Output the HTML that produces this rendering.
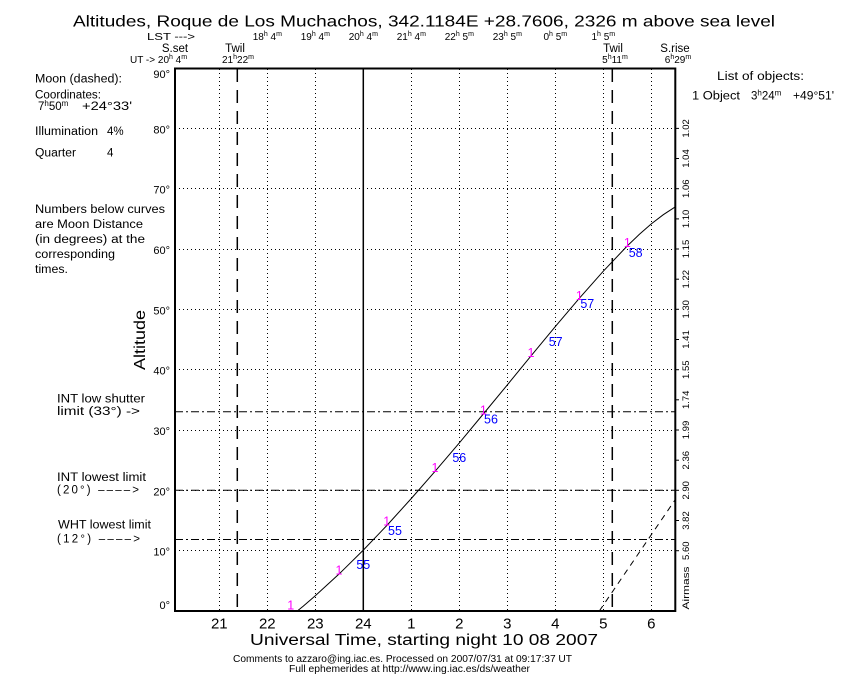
<!DOCTYPE html>
<html><head><meta charset="utf-8"><style>
html,body{margin:0;padding:0;background:#fff;}
svg{display:block;font-family:"Liberation Sans",sans-serif;}
</style></head><body>
<svg width="850" height="680" viewBox="0 0 850 680" xmlns="http://www.w3.org/2000/svg">
<rect width="850" height="680" fill="#fff"/>

<!-- Title -->
<text x="73" y="26.5" font-size="16" textLength="702" lengthAdjust="spacingAndGlyphs">Altitudes, Roque de Los Muchachos, 342.1184E +28.7606, 2326 m above sea level</text>

<!-- LST row -->
<g font-size="10">
<text x="147" y="40" textLength="48" lengthAdjust="spacingAndGlyphs">LST ---&gt;</text>
<text x="267.3" y="40" text-anchor="middle">18<tspan font-size="7" dy="-4">h</tspan><tspan dy="4"> 4</tspan><tspan font-size="7" dy="-4">m</tspan></text>
<text x="315.3" y="40" text-anchor="middle">19<tspan font-size="7" dy="-4">h</tspan><tspan dy="4"> 4</tspan><tspan font-size="7" dy="-4">m</tspan></text>
<text x="363.3" y="40" text-anchor="middle">20<tspan font-size="7" dy="-4">h</tspan><tspan dy="4"> 4</tspan><tspan font-size="7" dy="-4">m</tspan></text>
<text x="411.3" y="40" text-anchor="middle">21<tspan font-size="7" dy="-4">h</tspan><tspan dy="4"> 4</tspan><tspan font-size="7" dy="-4">m</tspan></text>
<text x="459.3" y="40" text-anchor="middle">22<tspan font-size="7" dy="-4">h</tspan><tspan dy="4"> 5</tspan><tspan font-size="7" dy="-4">m</tspan></text>
<text x="507.3" y="40" text-anchor="middle">23<tspan font-size="7" dy="-4">h</tspan><tspan dy="4"> 5</tspan><tspan font-size="7" dy="-4">m</tspan></text>
<text x="555.3" y="40" text-anchor="middle">0<tspan font-size="7" dy="-4">h</tspan><tspan dy="4"> 5</tspan><tspan font-size="7" dy="-4">m</tspan></text>
<text x="603.3" y="40" text-anchor="middle">1<tspan font-size="7" dy="-4">h</tspan><tspan dy="4"> 5</tspan><tspan font-size="7" dy="-4">m</tspan></text>
</g>

<!-- Sun set / twilight labels -->
<g font-size="11.5" text-anchor="middle">
<text x="175" y="52">S.set</text>
<text x="235" y="52">Twil</text>
<text x="613" y="52">Twil</text>
<text x="675" y="52">S.rise</text>
</g>
<g font-size="10">
<text x="130" y="63">UT -&gt; 20<tspan font-size="7" dy="-4">h</tspan><tspan dy="4"> 4</tspan><tspan font-size="7" dy="-4">m</tspan></text>
<text x="238" y="63" text-anchor="middle">21<tspan font-size="7" dy="-4">h</tspan><tspan dy="4">22</tspan><tspan font-size="7" dy="-4">m</tspan></text>
<text x="615" y="63" text-anchor="middle">5<tspan font-size="7" dy="-4">h</tspan><tspan dy="4">11</tspan><tspan font-size="7" dy="-4">m</tspan></text>
<text x="678" y="63" text-anchor="middle">6<tspan font-size="7" dy="-4">h</tspan><tspan dy="4">29</tspan><tspan font-size="7" dy="-4">m</tspan></text>
</g>

<!-- Left panel text -->
<g font-size="11.5">
<text x="35" y="82.5" textLength="87" lengthAdjust="spacingAndGlyphs">Moon (dashed):</text>
<text x="35" y="98.5" textLength="66" lengthAdjust="spacingAndGlyphs">Coordinates:</text>
<text x="38" y="110">7<tspan font-size="8" dy="-4">h</tspan><tspan dy="4">50</tspan><tspan font-size="8" dy="-4">m</tspan></text>
<text x="82" y="110" textLength="50" lengthAdjust="spacingAndGlyphs">+24°33'</text>
<text x="35" y="135" textLength="63" lengthAdjust="spacingAndGlyphs">Illumination</text>
<text x="107" y="135">4%</text>
<text x="35" y="156.5" textLength="41" lengthAdjust="spacingAndGlyphs">Quarter</text>
<text x="107" y="156.5">4</text>
<text x="35" y="213" textLength="130" lengthAdjust="spacingAndGlyphs">Numbers below curves</text>
<text x="35" y="228" textLength="108" lengthAdjust="spacingAndGlyphs">are Moon Distance</text>
<text x="35" y="243" textLength="110" lengthAdjust="spacingAndGlyphs">(in degrees) at the</text>
<text x="35" y="258" textLength="80" lengthAdjust="spacingAndGlyphs">corresponding</text>
<text x="35" y="273" textLength="33" lengthAdjust="spacingAndGlyphs">times.</text>

<text x="57" y="402.5" textLength="88" lengthAdjust="spacingAndGlyphs">INT low shutter</text>
<text x="57" y="415" textLength="83" lengthAdjust="spacingAndGlyphs">limit (33°) -&gt;</text>
<text x="57" y="481" textLength="89" lengthAdjust="spacingAndGlyphs">INT lowest limit</text>
<text x="57" y="493.5" textLength="82" lengthAdjust="spacing">(20°) ––––&gt;</text>
<text x="58" y="528.5" textLength="93" lengthAdjust="spacingAndGlyphs">WHT lowest limit</text>
<text x="57" y="542.5" textLength="83" lengthAdjust="spacing">(12°) ––––&gt;</text>
</g>

<!-- Right panel text -->
<g font-size="11.5">
<text x="717" y="80" textLength="87" lengthAdjust="spacingAndGlyphs">List of objects:</text>
<text x="692" y="99.5" textLength="48" lengthAdjust="spacingAndGlyphs">1 Object</text>
<text x="751" y="99.5">3<tspan font-size="8" dy="-4">h</tspan><tspan dy="4">24</tspan><tspan font-size="8" dy="-4">m</tspan></text>
<text x="793" y="99.5" textLength="41" lengthAdjust="spacingAndGlyphs">+49°51'</text>
</g>

<!-- Y axis labels -->
<g font-size="11" text-anchor="end">
<text x="170" y="78">90°</text>
<text x="170" y="133.5">80°</text>
<text x="170" y="193.7">70°</text>
<text x="170" y="254">60°</text>
<text x="170" y="314.3">50°</text>
<text x="170" y="374.7">40°</text>
<text x="170" y="435">30°</text>
<text x="170" y="495.3">20°</text>
<text x="170" y="555.7">10°</text>
<text x="170" y="609">0°</text>
</g>
<text transform="translate(145,340) rotate(-90)" font-size="16" text-anchor="middle" textLength="60" lengthAdjust="spacingAndGlyphs">Altitude</text>

<!-- Grid: horizontal dotted -->
<g stroke="#000" stroke-width="1" stroke-dasharray="1 3" fill="none">
<line x1="175" y1="128.5" x2="675" y2="128.5"/>
<line x1="175" y1="188.5" x2="675" y2="188.5"/>
<line x1="175" y1="249.5" x2="675" y2="249.5"/>
<line x1="175" y1="309.5" x2="675" y2="309.5"/>
<line x1="175" y1="369.5" x2="675" y2="369.5"/>
<line x1="175" y1="430.5" x2="675" y2="430.5"/>
<line x1="175" y1="490.5" x2="675" y2="490.5"/>
<line x1="175" y1="550.5" x2="675" y2="550.5"/>
<!-- vertical dotted -->
<line x1="219.5" y1="69" x2="219.5" y2="611"/>
<line x1="267.5" y1="69" x2="267.5" y2="611"/>
<line x1="315.5" y1="69" x2="315.5" y2="611"/>
<line x1="411.5" y1="69" x2="411.5" y2="611"/>
<line x1="459.5" y1="69" x2="459.5" y2="611"/>
<line x1="507.5" y1="69" x2="507.5" y2="611"/>
<line x1="555.5" y1="69" x2="555.5" y2="611"/>
<line x1="603.5" y1="69" x2="603.5" y2="611"/>
<line x1="651.5" y1="69" x2="651.5" y2="611"/>
</g>

<!-- Midnight solid line -->
<line x1="363.3" y1="69" x2="363.3" y2="611" stroke="#000" stroke-width="1.5"/>

<!-- Twilight dashed lines -->
<g stroke="#000" stroke-width="1.5" stroke-dasharray="13 8" fill="none">
<line x1="237.3" y1="69" x2="237.3" y2="611"/>
<line x1="612.3" y1="69" x2="612.3" y2="611"/>
</g>

<!-- Limit dash-dot lines -->
<g stroke="#000" stroke-width="1" stroke-dasharray="8 3 2 3" fill="none">
<line x1="175" y1="411.7" x2="675" y2="411.7"/>
<line x1="175" y1="490.3" x2="675" y2="490.3"/>
<line x1="175" y1="539.5" x2="675" y2="539.5"/>
</g>

<!-- Object curve -->
<polyline fill="none" stroke="#000" stroke-width="1" points="297.3,611 303.3,606.1 315.3,595.7 339.3,573.8 363.3,550.1 387.3,525.0 411.3,498.5 435.3,471.1 459.3,442.9 483.3,414.0 507.3,384.9 531.3,355.6 555.3,326.6 579.3,298.3 603.3,271.2 627.3,245.9 639.3,234.4 651.3,223.9 663.3,214.7 674.8,207.2"/>

<!-- Moon dashed line -->
<line x1="599.3" y1="611" x2="675" y2="500" stroke="#000" stroke-width="1" stroke-dasharray="6 5"/>

<!-- Moon distance labels -->
<g font-size="12.5" fill="#ff00ff" text-anchor="middle">
<text x="290.7" y="609.5">1</text>
<text x="339" y="574.5">1</text>
<text x="386.7" y="525.5">1</text>
<text x="435" y="471.8">1</text>
<text x="483.3" y="414.5">1</text>
<text x="531" y="357.2">1</text>
<text x="579.3" y="300.2">1</text>
<text x="627.3" y="246.8">1</text>
</g>
<g font-size="12.5" fill="#0000ff" text-anchor="middle">
<text x="363.3" y="568.8">55</text>
<text x="395" y="535.2">55</text>
<text x="459.3" y="461.8">56</text>
<text x="491" y="423.5">56</text>
<text x="555.7" y="346.2">57</text>
<text x="587.3" y="307.8">57</text>
<text x="635.7" y="256.8">58</text>
</g>

<!-- Frame -->
<rect x="175" y="68.5" width="500.3" height="542.5" fill="none" stroke="#000" stroke-width="2"/>

<!-- Airmass ticks -->
<g stroke="#000" stroke-width="1">
<line x1="675" y1="128.4" x2="679" y2="128.4"/>
<line x1="675" y1="158.5" x2="679" y2="158.5"/>
<line x1="675" y1="188.7" x2="679" y2="188.7"/>
<line x1="675" y1="218.9" x2="679" y2="218.9"/>
<line x1="675" y1="249" x2="679" y2="249"/>
<line x1="675" y1="279.2" x2="679" y2="279.2"/>
<line x1="675" y1="309.3" x2="679" y2="309.3"/>
<line x1="675" y1="339.5" x2="679" y2="339.5"/>
<line x1="675" y1="369.7" x2="679" y2="369.7"/>
<line x1="675" y1="399.8" x2="679" y2="399.8"/>
<line x1="675" y1="430" x2="679" y2="430"/>
<line x1="675" y1="460.2" x2="679" y2="460.2"/>
<line x1="675" y1="490.3" x2="679" y2="490.3"/>
<line x1="675" y1="520.5" x2="679" y2="520.5"/>
<line x1="675" y1="550.7" x2="679" y2="550.7"/>
</g>

<!-- Airmass labels -->
<g font-size="9.5" text-anchor="middle">
<text transform="translate(689,128.4) rotate(-90)">1.02</text>
<text transform="translate(689,158.5) rotate(-90)">1.04</text>
<text transform="translate(689,188.7) rotate(-90)">1.06</text>
<text transform="translate(689,218.9) rotate(-90)">1.10</text>
<text transform="translate(689,249) rotate(-90)">1.15</text>
<text transform="translate(689,279.2) rotate(-90)">1.22</text>
<text transform="translate(689,309.3) rotate(-90)">1.30</text>
<text transform="translate(689,339.5) rotate(-90)">1.41</text>
<text transform="translate(689,369.7) rotate(-90)">1.55</text>
<text transform="translate(689,399.8) rotate(-90)">1.74</text>
<text transform="translate(689,430) rotate(-90)">1.99</text>
<text transform="translate(689,460.2) rotate(-90)">2.36</text>
<text transform="translate(689,490.3) rotate(-90)">2.90</text>
<text transform="translate(689,520.5) rotate(-90)">3.82</text>
<text transform="translate(689,550.7) rotate(-90)">5.60</text>
<text transform="translate(689,588) rotate(-90)" textLength="43" lengthAdjust="spacingAndGlyphs">Airmass</text>
</g>

<!-- X axis labels -->
<g font-size="15" text-anchor="middle">
<text x="219.3" y="628.5">21</text>
<text x="267.3" y="628.5">22</text>
<text x="315.3" y="628.5">23</text>
<text x="363.3" y="628.5">24</text>
<text x="411.3" y="628.5">1</text>
<text x="459.3" y="628.5">2</text>
<text x="507.3" y="628.5">3</text>
<text x="555.3" y="628.5">4</text>
<text x="603.3" y="628.5">5</text>
<text x="651.3" y="628.5">6</text>
</g>
<text x="250" y="645" font-size="15.5" textLength="348" lengthAdjust="spacingAndGlyphs">Universal Time, starting night 10 08 2007</text>

<!-- Footer -->
<text x="233" y="662" font-size="10" textLength="339" lengthAdjust="spacingAndGlyphs">Comments to azzaro@ing.iac.es. Processed on 2007/07/31 at 09:17:37 UT</text>
<text x="289" y="672" font-size="10" textLength="241" lengthAdjust="spacingAndGlyphs">Full ephemerides at http://www.ing.iac.es/ds/weather</text>
</svg>
</body></html>
